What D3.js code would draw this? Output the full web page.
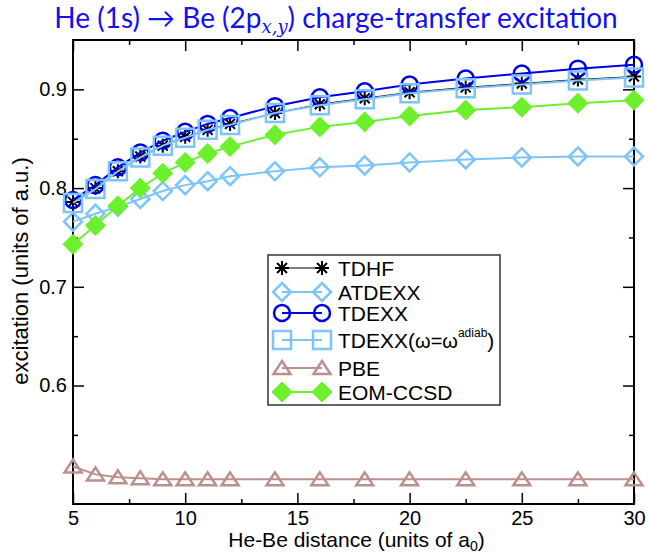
<!DOCTYPE html>
<html>
<head>
<meta charset="utf-8">
<script src="https://cdn.jsdelivr.net/npm/d3@7"></script>
<style>
  body { margin: 0; background: #fff; }
  text { font-family: "Liberation Sans", Arial, sans-serif; }
</style>
</head>
<body>
<div id="chart"></div>
<script>
// He-Be distance (a0)
const distances = [5, 6, 7, 8, 9, 10, 11, 12, 14, 16, 18, 20, 22.5, 25, 27.5, 30];

// excitation energies (a.u.)
const tdhf    = [0.786, 0.800, 0.817, 0.832, 0.843, 0.852, 0.859, 0.865, 0.876, 0.885, 0.891, 0.897, 0.902, 0.906, 0.910, 0.913];
const atdexx  = [0.766, 0.774, 0.781, 0.789, 0.797, 0.803, 0.807, 0.812, 0.817, 0.821, 0.823, 0.826, 0.829, 0.831, 0.832, 0.832];
const tdexx   = [0.788, 0.803, 0.821, 0.836, 0.848, 0.857, 0.865, 0.871, 0.883, 0.892, 0.898, 0.905, 0.911, 0.916, 0.921, 0.925];
const tdexxAd = [0.785, 0.799, 0.817, 0.831, 0.843, 0.851, 0.859, 0.864, 0.876, 0.884, 0.890, 0.896, 0.901, 0.905, 0.909, 0.912];
const pbe     = [0.518, 0.510, 0.507, 0.506, 0.505, 0.505, 0.505, 0.505, 0.505, 0.505, 0.505, 0.505, 0.505, 0.505, 0.505, 0.505];
const eomccsd = [0.743, 0.762, 0.782, 0.800, 0.815, 0.826, 0.835, 0.842, 0.854, 0.862, 0.867, 0.873, 0.879, 0.882, 0.886, 0.889];

const xTicks = [5, 10, 15, 20, 25, 30];
const xMinor = [7.5, 12.5, 17.5, 22.5, 27.5];
const yTicks = [0.6, 0.7, 0.8, 0.9];
const yMinor = [0.55, 0.65, 0.75, 0.85];

// set the dimensions and margins of the graph
var margin = {top: 40, right: 14, bottom: 51, left: 73},
    width = 648 - margin.left - margin.right,
    height = 555 - margin.top - margin.bottom;

var svg = d3.select('#chart').append('svg')
    .attr('width', 648)
    .attr('height', 555);

var g = svg.append('g')
    .attr('transform', 'translate(' + margin.left + ',' + margin.top + ')');

var x = d3.scaleLinear().domain([5, 30]).range([0, width]);
var y = d3.scaleLinear().domain([0.48, 0.95]).range([height, 0]);

// ticks pointing inward on all four sides
g.append('g').attr('transform', 'translate(0,' + height + ')')
    .call(d3.axisBottom(x).tickValues(xTicks).tickSizeInner(-11).tickSizeOuter(0).tickPadding(7).tickFormat(d3.format('d')));
g.append('g').attr('transform', 'translate(0,' + height + ')')
    .call(d3.axisBottom(x).tickValues(xMinor).tickSizeInner(-5).tickSizeOuter(0).tickFormat(''));
g.append('g')
    .call(d3.axisTop(x).tickValues(xTicks).tickSizeInner(-11).tickSizeOuter(0).tickFormat(''));
g.append('g')
    .call(d3.axisTop(x).tickValues(xMinor).tickSizeInner(-5).tickSizeOuter(0).tickFormat(''));
g.append('g')
    .call(d3.axisLeft(y).tickValues(yTicks).tickSizeInner(-11).tickSizeOuter(0).tickPadding(6).tickFormat(d3.format('.1f')));
g.append('g')
    .call(d3.axisLeft(y).tickValues(yMinor).tickSizeInner(-5).tickSizeOuter(0).tickFormat(''));
g.append('g').attr('transform', 'translate(' + width + ',0)')
    .call(d3.axisRight(y).tickValues(yTicks).tickSizeInner(-11).tickSizeOuter(0).tickFormat(''));
g.append('g').attr('transform', 'translate(' + width + ',0)')
    .call(d3.axisRight(y).tickValues(yMinor).tickSizeInner(-5).tickSizeOuter(0).tickFormat(''));

g.selectAll('.domain').remove();
g.selectAll('.tick line').attr('stroke', '#000').attr('stroke-width', 1.5);
g.selectAll('.tick text').attr('font-size', 20).attr('fill', '#000')
    .style('font-family', '"Liberation Sans", Arial, sans-serif');

// frame
g.append('rect')
    .attr('width', width).attr('height', height)
    .attr('fill', 'none').attr('stroke', '#000').attr('stroke-width', 2);

// marker shapes
function markerPath(type) {
    if (type === 'circle') return d3.symbol(d3.symbolCircle, Math.PI * 64)();
    if (type === 'square') return 'M-9,-9H9V9H-9Z';
    if (type === 'diamond') return 'M0,-9L9,0L0,9L-9,0Z';
    if (type === 'fdiamond') return 'M0,-10L10,0L0,10L-10,0Z';
    if (type === 'triangle') return 'M0,-7L8.5,6L-8.5,6Z';
    if (type === 'star') return 'M-7,0H7M0,-7V7M-5,-5L5,5M-5,5L5,-5';
}

var series = [
    {name: 'TDHF', values: tdhf, color: '#000', lw: 1, marker: 'star', fill: 'none', mw: 2},
    {name: 'ATDEXX', values: atdexx, color: '#7cc4fa', lw: 2, marker: 'diamond', fill: 'none', mw: 2.5},
    {name: 'TDEXX', values: tdexx, color: '#0000e6', lw: 2, marker: 'circle', fill: 'none', mw: 2.5},
    {name: 'TDEXXad', values: tdexxAd, color: '#7cc4fa', lw: 2, marker: 'square', fill: 'none', mw: 2.5},
    {name: 'PBE', values: pbe, color: '#bc8f8f', lw: 2, marker: 'triangle', fill: 'none', mw: 2.5},
    {name: 'EOM-CCSD', values: eomccsd, color: '#6cf02c', lw: 2, marker: 'fdiamond', fill: '#6cf02c', mw: 1}
];

var line = d3.line()
    .x(function(d) { return x(d[0]) })
    .y(function(d) { return y(d[1]) });

series.forEach(function(s) {
    var pts = distances.map(function(d, i) { return [d, s.values[i]] });
    g.append('path')
        .datum(pts)
        .attr('fill', 'none')
        .attr('stroke', s.color)
        .attr('stroke-width', s.lw)
        .attr('d', line);
    g.selectAll(null)
        .data(pts)
        .enter().append('path')
        .attr('transform', function(d) { return 'translate(' + x(d[0]) + ',' + y(d[1]) + ')' })
        .attr('d', markerPath(s.marker))
        .attr('fill', s.fill)
        .attr('stroke', s.color)
        .attr('stroke-width', s.mw);
});

// legend
var legend = svg.append('g').attr('transform', 'translate(268,255)');
legend.append('rect')
    .attr('width', 232).attr('height', 150)
    .attr('fill', '#fff').attr('stroke', '#333').attr('stroke-width', 1.5);

var rowY = [13, 37, 58, 85, 113, 137];
series.forEach(function(s, i) {
    var row = legend.append('g').attr('transform', 'translate(0,' + rowY[i] + ')');
    row.append('line')
        .attr('x1', 14).attr('x2', 54)
        .attr('stroke', s.color).attr('stroke-width', s.lw);
    [14, 54].forEach(function(px) {
        row.append('path')
            .attr('transform', 'translate(' + px + ',0)')
            .attr('d', markerPath(s.marker))
            .attr('fill', s.fill)
            .attr('stroke', s.color)
            .attr('stroke-width', s.mw);
    });
    var t = row.append('text')
        .attr('x', 70).attr('y', 8)
        .attr('font-size', 21);
    if (s.name === 'TDEXXad') {
        t.append('tspan').text('TDEXX(');
        t.append('tspan').attr('font-size', 20).text('\u03c9=\u03c9');
        t.append('tspan').attr('font-size', 12).attr('dy', -11).text('adiab');
        t.append('tspan').attr('dy', 11).text(')');
    } else {
        t.text(s.name);
    }
});

// axis labels
svg.append('text')
    .attr('x', margin.left + width / 2 + 3).attr('y', 547)
    .attr('text-anchor', 'middle')
    .attr('font-size', 21)
    .call(function(t) {
        t.append('tspan').text('He-Be distance (units of a');
        t.append('tspan').attr('font-size', 14).attr('dy', 4).text('0');
        t.append('tspan').attr('dy', -4).text(')');
    });

svg.append('text')
    .attr('transform', 'translate(28,271) rotate(-90)')
    .attr('text-anchor', 'middle')
    .attr('font-size', 22)
    .text('excitation (units of a.u.)');

// title
var title = svg.append('text')
    .attr('x', 336).attr('y', 28)
    .attr('text-anchor', 'middle')
    .attr('fill', '#1010f0')
    .attr('font-size', 28)
    .style('font-family', 'Lato, "Open Sans", sans-serif');
title.append('tspan').text('He (1s) \u2192 Be (2p');
title.append('tspan').attr('dy', 5).attr('font-size', 18)
    .style('font-family', '"DejaVu Serif", serif').style('font-style', 'italic').text('x,y');
title.append('tspan').attr('dy', -5).text(') charge-transfer excitation');
</script>
</body>
</html>
